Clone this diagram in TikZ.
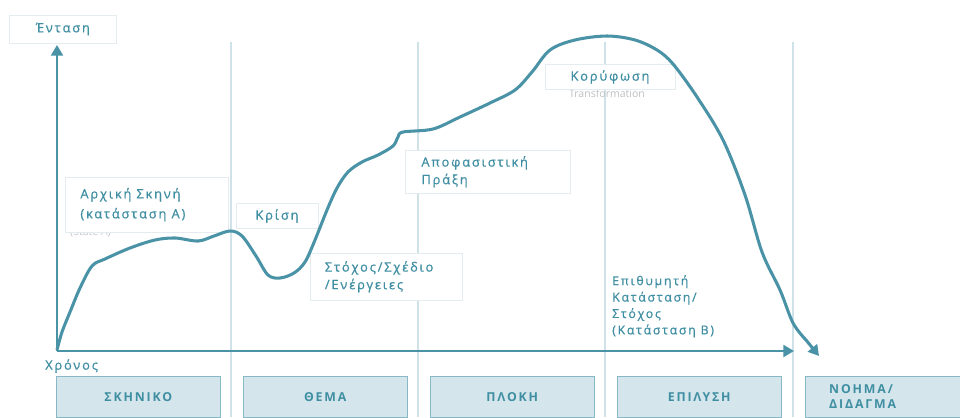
\documentclass[tikz,border=0pt]{standalone}
\usepackage{fontspec}
\setmainfont{Open Sans}
\newfontfamily\lblfont[LetterSpace=14,FakeBold=0.6]{Open Sans}
\newfontfamily\barfont[LetterSpace=15]{Open Sans}
\usetikzlibrary{arrows.meta,positioning}
\definecolor{tealline}{HTML}{4A93A6}
\definecolor{tealtext}{HTML}{3F8EA2}
\definecolor{sepline}{HTML}{CFE2E8}
\definecolor{barfill}{HTML}{D4E6EC}
\definecolor{barline}{HTML}{86B8C6}
\definecolor{labline}{HTML}{E4ECEF}
\tikzset{
  label box/.style={draw=labline,fill=white,text=tealtext,align=left,anchor=north west,
    inner sep=0pt,font=\lblfont\fontsize{11}{15}\selectfont},
  phase box/.style={draw=barline,fill=barfill,text=tealtext,minimum height=1.23cm,
    inner sep=0pt,anchor=north west,font=\barfont\fontsize{10.5}{13}\selectfont\bfseries},
}
\begin{document}
\begin{tikzpicture}[x=0.03cm,y=-0.03cm]
  \useasboundingbox (0,0) rectangle (960,417);
  \clip (0,0) rectangle (960,417);
  % phase separators
  \foreach \i/\x in {1/231,2/418,3/605,4/793}{
    \draw[sepline,line width=1.2pt] (\x,42) -- (\x,417);
  }
  % phase bars
  \foreach \i/\x/\t in {skh/56/ΣΚΗΝΙΚΟ,the/243/ΘΕΜΑ,plo/430/ΠΛΟΚΗ,epi/617/ΕΠΙΛΥΣΗ}{
    \node [phase box,minimum width=4.92cm] (\i) at (\x,376) {\t};
  }
  \node [phase box,text width=4.2cm,inner xsep=0.72cm,align=left] (noi) at (805,376)
    {ΝΟΗΜΑ/\\ΔΙΔΑΓΜΑ};
  % axis labels
  \node [label box,minimum width=3.21cm,minimum height=0.84cm,align=center,anchor=center] (ent) at (63,29) {Ένταση};
  \node [label box,draw=none,anchor=west] (xro) at (45,366) {Χρόνος};
  % axes
  \coordinate (o) at (57,351);
  \coordinate (ytop) at (57,45);
  \coordinate (xend) at (794,351);
  \draw[tealline,line width=2.2pt,-{Triangle[length=9pt,width=10pt]}] (o) -- (ytop);
  \draw[tealline,line width=2.2pt,-{Triangle[length=9pt,width=10pt]}] (o) -- (xend);
  % faded notes
  \node [text=black!22,font=\fontsize{9}{10}\selectfont,anchor=north west] (sta) at (66,224) {(State A)};
  \node [text=black!25,font=\fontsize{9}{10}\selectfont] (tra) at (607,94) {Transformation};
  % story labels
  \node [label box,minimum width=4.89cm,minimum height=1.65cm] (arx) at (65,177)
    {\hspace{12pt}\parbox{4.4cm}{Αρχική Σκηνή\\[2pt](κατάσταση Α)}};
  \node [label box,minimum width=2.46cm,minimum height=0.75cm,align=center,anchor=center] (kri) at (277,216) {Κρίση};
  \node [label box,minimum width=4.56cm,minimum height=1.41cm] (sto) at (310,253)
    {\hspace{12pt}\parbox{4.1cm}{Στόχος/Σχέδιο\\/Ενέργειες}};
  \node [label box,minimum width=4.95cm,minimum height=1.29cm] (apo) at (405,150)
    {\hspace{12pt}\parbox{4.4cm}{Αποφασιστική\\Πράξη}};
  \node [label box,minimum width=3.9cm,minimum height=0.75cm,align=center,anchor=center] (kor) at (610,77) {Κορύφωση};
  \node [label box,draw=none,fill=none,anchor=north west,font=\lblfont\fontsize{10.5}{14}\selectfont] (epi-t) at (612,275)
    {Επιθυμητή\\Κατάσταση/\\Στόχος\\(Κατάσταση Β)};
  % tension curve
  \coordinate (cend) at (819,356);
  \draw[tealline,line width=2.6pt,line join=round,-{Triangle[length=9pt,width=10pt]}]
    plot[smooth,tension=0.55] coordinates {
      (57,350) (62,332) (70,312) (80,288) (92,266) (105,259) (130,248) (155,240)
      (175,238) (198,241) (214,236) (230,231) (242,236) (256,256) (268,275) (280,278)
      (294,273) (305,262) (315,240) (327,210) (337,188) (348,172) (362,162) (378,155)
      (393,146) (398,137) (403,132) (433,129) (460,117) (490,103) (515,90) (532,72)
      (550,50) (575,40) (607,36) (635,40) (657,50) (673,64) (697,97) (723,140)
      (745,195) (762,252) (780,290) (793,323) (806,340)}
    -- (cend);
\end{tikzpicture}
\end{document}
